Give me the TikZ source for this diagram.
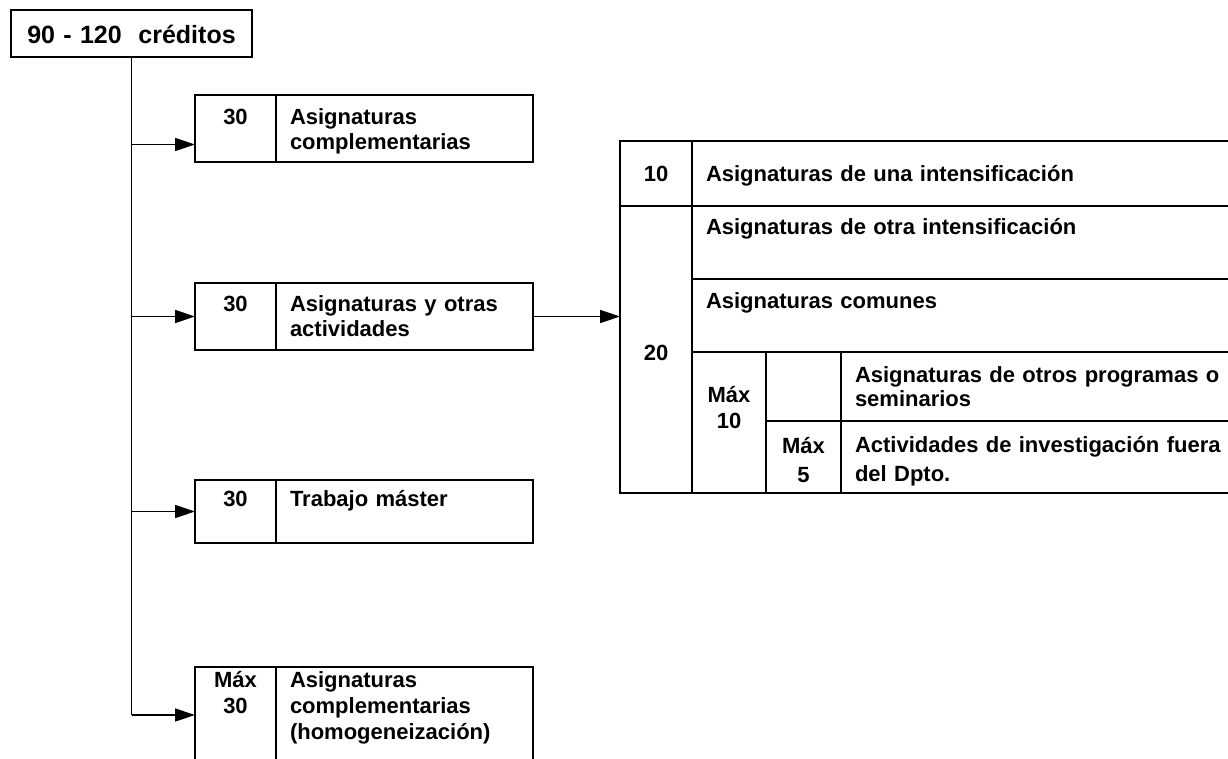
\documentclass[tikz,border=0pt]{standalone}
\usepackage{fontspec}
\setmainfont{Liberation Sans}
\usetikzlibrary{calc}
\usetikzlibrary{positioning}
\usetikzlibrary{arrows.meta}
\tikzstyle{numcell} = [draw, rectangle, anchor=north west, inner sep=0pt, outer sep=0pt, align=center, font=\bfseries\fontsize{22}{25}\selectfont]
\tikzstyle{txtcell} = [draw, rectangle, anchor=north west, inner xsep=14pt, inner ysep=0pt, outer sep=0pt, align=left, font=\bfseries\fontsize{22}{25}\selectfont]
\tikzstyle{branch} = [-{Triangle[length=20pt,width=13pt]}]

\begin{document}
\begin{tikzpicture}[x=1pt, y=-1pt, line width=1.4pt]
\useasboundingbox (0,0) rectangle (1228,759);
\node[numcell, font=\bfseries\fontsize{25}{28}\selectfont, text width=241pt, text height=34pt, text depth=13pt] (total) at (11,10) {90 - 120~ créditos};

% left column
\node[numcell, text width=81pt, text height=30pt, text depth=37pt] (n1) at (195,95) {30};
\node[txtcell, text width=229pt, text height=30pt, text depth=37pt] (t1) at (n1.north east) {Asignaturas\\complementarias};
\node[numcell, text width=81pt, text height=28pt, text depth=39pt] (n2) at ($(n1.north west)+(0,188)$) {30};
\node[txtcell, text width=229pt, text height=28pt, text depth=39pt] (t2) at (n2.north east) {Asignaturas y otras\\actividades};
\node[numcell, text width=81pt, text height=26pt, text depth=37pt] (n3) at ($(n2.north west)+(0,197)$) {30};
\node[txtcell, text width=229pt, text height=26pt, text depth=37pt] (t3) at (n3.north east) {Trabajo máster};
\node[numcell, font=\bfseries\fontsize{22}{26}\selectfont, text width=81pt, text height=20pt, text depth=76pt] (n4) at ($(n3.north west)+(0,187)$) {Máx\\30};
\node[txtcell, font=\bfseries\fontsize{22}{26}\selectfont, text width=229pt, text height=20pt, text depth=76pt] (t4) at (n4.north east) {Asignaturas\\complementarias\\(homogeneización)};

\coordinate (a1) at ([yshift=-16pt]n1.west);
\draw (total.south) -- (total.south |- n4.west);
\draw[branch] (total.south |- a1) -- (a1);
\foreach \b in {n2,n3,n4}
  \draw[branch] (total.south |- \b.west) -- (\b.west);

% table
\node[numcell, text width=72pt, text height=41pt, text depth=24pt] (c10) at (620,141) {10};
\node[txtcell, text width=520pt, text height=41pt, text depth=24pt] (r1) at (c10.north east) {Asignaturas de una intensificación};
\node[numcell, text width=72pt, text height=154pt, text depth=133pt] (c20) at (c10.south west) {20};
\node[txtcell, text width=520pt, text height=29pt, text depth=44pt] (r2) at (c20.north east) {Asignaturas de otra intensificación};
\node[txtcell, text width=520pt, text height=29pt, text depth=44pt] (r3) at (r2.south west) {Asignaturas comunes};
\node[numcell, font=\bfseries\fontsize{22}{26}\selectfont, text width=74pt, text height=50pt, text depth=91pt] (m10) at (r3.south west) {Máx\\10};
\node[numcell, text width=75pt, text height=0pt, text depth=69pt] (e1) at (m10.north east) {};
\node[txtcell, font=\bfseries\fontsize{22}{24}\selectfont, text width=371pt, text height=30pt, text depth=39pt] (r4) at (e1.north east) {Asignaturas de otros programas o\\seminarios};
\node[numcell, font=\bfseries\fontsize{22}{29}\selectfont, text width=75pt, text height=32pt, text depth=40pt] (m5) at (e1.south west) {Máx\\5};
\node[txtcell, font=\bfseries\fontsize{22}{29}\selectfont, text width=371pt, text height=31pt, text depth=41pt] (r5) at (r4.south west) {Actividades de investigación fuera\\del Dpto.};

\draw[branch] (t2.east) -- (t2.east -| c20.west);
\end{tikzpicture}
\end{document}
